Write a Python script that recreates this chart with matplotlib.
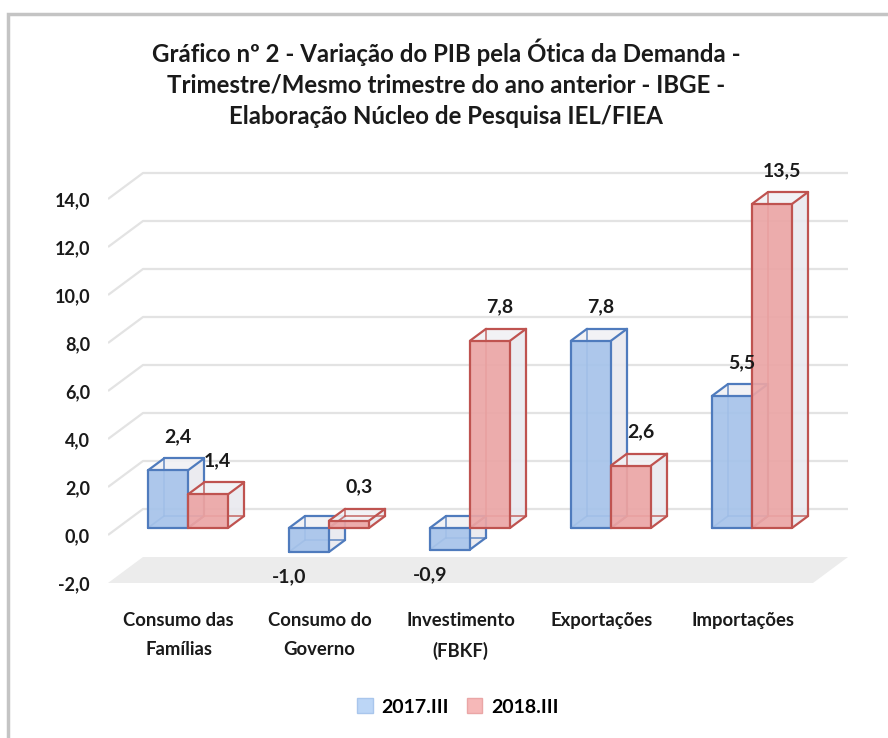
import numpy as np
import matplotlib.pyplot as plt
from matplotlib.patches import Polygon, Rectangle, Patch

# --- data ---
CATEGORIES = ["Consumo das\nFamílias", "Consumo do\nGoverno", "Investimento\n(FBKF)",
              "Exportações", "Importações"]
SERIES = ["2017.III", "2018.III"]
VAL_2017 = [2.4, -1.0, -0.9, 7.8, 5.5]
VAL_2018 = [1.4, 0.3, 7.8, 2.6, 13.5]
YTICKS = [-2, 0, 2, 4, 6, 8, 10, 12, 14]
TITLE = ("Gráfico nº 2 - Variação do PIB pela Ótica da Demanda -\n"
         "Trimestre/Mesmo trimestre do ano anterior - IBGE -\n"
         "Elaboração Núcleo de Pesquisa IEL/FIEA")

plt.rcParams['font.family'] = ['Lato', 'DejaVu Sans']
plt.rcParams['font.weight'] = 'bold'

W_PX, H_PX = 888, 738
XU, YU = 141.0, 24.0          # pixels per category / per value unit
DX, DY = 35.0 / XU, 26.0 / YU  # full depth of the floor, in data units
F0, F1 = 0.27, 0.73            # bar front / back depth fraction
BAR_W = 0.284
FS = 14
TXT = "#1a1a1a"

FACE = ["#a6c3ea", "#eba5a5"]
EDGE = ["#4f7bbd", "#bf5350"]
SIDE = "#e9e9ef"
TOP = "#f1f1f4"

fig = plt.figure(figsize=(W_PX / 100, H_PX / 100), dpi=100)

# chart border
fig.patches.append(Rectangle((8 / W_PX, -0.1), 1.2, (H_PX - 14) / H_PX + 0.1,
                             transform=fig.transFigure, fill=False,
                             edgecolor="#c4c4c4", linewidth=2.5))

ymin, ymax = -2, 16
xmin, xmax = -0.5, 4.5 + DX
left = 108 / W_PX
bottom = (H_PX - 583) / H_PX
ax = fig.add_axes([left, bottom, (xmax - xmin) * XU / W_PX, (ymax - ymin) * YU / H_PX])
ax.set_xlim(xmin, xmax)
ax.set_ylim(ymin, ymax)
for s in ax.spines.values():
    s.set_visible(False)
ax.patch.set_alpha(0)

# floor
ax.add_patch(Polygon([(xmin, ymin), (xmin + DX, ymin + DY), (4.5 + DX, ymin + DY), (4.5, ymin)],
                     closed=True, facecolor="#ececec", edgecolor="none", zorder=1))
# gridlines
for v in YTICKS[1:]:
    ax.plot([xmin, xmin + DX, 4.5 + DX], [v, v + DY, v + DY],
            color="#e3e3e3", lw=1.6, zorder=1, solid_capstyle="butt")


def draw_box(x0, w, v, face, edge, z):
    lo, hi = min(0, v), max(0, v)
    fx0, fy = DX * F0, DY * F0
    bx0, by = DX * F1, DY * F1
    fl = [(x0 + fx0, lo + fy), (x0 + w + fx0, lo + fy), (x0 + w + fx0, hi + fy), (x0 + fx0, hi + fy)]
    bl = [(x0 + bx0, lo + by), (x0 + w + bx0, lo + by), (x0 + w + bx0, hi + by), (x0 + bx0, hi + by)]
    # side and top faces
    ax.add_patch(Polygon([fl[1], bl[1], bl[2], fl[2]], closed=True,
                         facecolor=SIDE, edgecolor="none", alpha=0.9, zorder=z))
    ax.add_patch(Polygon([fl[3], fl[2], bl[2], bl[3]], closed=True,
                         facecolor=TOP, edgecolor="none", alpha=0.9, zorder=z))
    # hidden edges seen through the transparent faces
    kw = dict(color=edge, lw=1.3, alpha=0.75, zorder=z + 0.1, solid_capstyle="round")
    ax.plot([bl[0][0], bl[3][0]], [bl[0][1], bl[3][1]], **kw)
    ax.plot([bl[0][0], bl[1][0]], [bl[0][1], bl[1][1]], **kw)
    ax.plot([fl[0][0], bl[0][0]], [fl[0][1], bl[0][1]], **kw)
    # front face
    ax.add_patch(Polygon(fl, closed=True, facecolor=face, edgecolor="none",
                         alpha=0.92, zorder=z + 0.2))
    kw = dict(color=edge, lw=1.6, zorder=z + 0.3, solid_capstyle="round")
    xs = [p[0] for p in fl] + [fl[0][0]]
    ys = [p[1] for p in fl] + [fl[0][1]]
    ax.plot(xs, ys, **kw)
    for a, b in [(fl[1], bl[1]), (fl[2], bl[2]), (fl[3], bl[3]),
                 (bl[1], bl[2]), (bl[2], bl[3])]:
        ax.plot([a[0], b[0]], [a[1], b[1]], **kw)


series_vals = [VAL_2017, VAL_2018]
for i in range(len(CATEGORIES)):
    for k, vals in enumerate(series_vals):
        x0 = i - BAR_W + k * BAR_W
        v = vals[i]
        draw_box(x0, BAR_W, v, FACE[k], EDGE[k], 3 + i * 2 + k)
        lab = f"{v:.1f}".replace(".", ",")
        cx = x0 + BAR_W / 2 + DX * F0
        if v >= 0:
            ax.text(cx + 0.07, v + DY * F0 + 1.4, lab, ha="center", va="center",
                    fontsize=FS, color=TXT, zorder=20)
        else:
            ax.text(cx - 0.14, v + DY * F0 - 1.05, lab, ha="center", va="center",
                    fontsize=FS, color=TXT, zorder=20)

ax.set_yticks(YTICKS)
ax.set_yticklabels([f"{t:.1f}".replace(".", ",") for t in YTICKS], fontsize=13, color=TXT)
ax.set_xticks(range(len(CATEGORIES)))
ax.set_xticklabels(CATEGORIES, fontsize=13.3, color=TXT, linespacing=1.85, va="top")
ax.tick_params(axis="y", length=0, pad=13)
ax.tick_params(axis="x", length=0, pad=21)

fig.text(446 / W_PX, 1 - 83 / H_PX, TITLE, ha="center", va="center", fontsize=17.3,
         color=TXT, linespacing=1.42)

handles = [Patch(facecolor="#bcd6f6", edgecolor="#a9c6ec", label=SERIES[0]),
           Patch(facecolor="#f6b8b8", edgecolor="#eaa6a6", label=SERIES[1])]
fig.legend(handles=handles, loc="center", bbox_to_anchor=(458 / W_PX, 1 - 707 / H_PX),
           ncol=2, frameon=False, fontsize=FS, handlelength=0.8, handleheight=0.8,
           handletextpad=0.45, columnspacing=0.9)

fig.savefig("out.png", dpi=100)
